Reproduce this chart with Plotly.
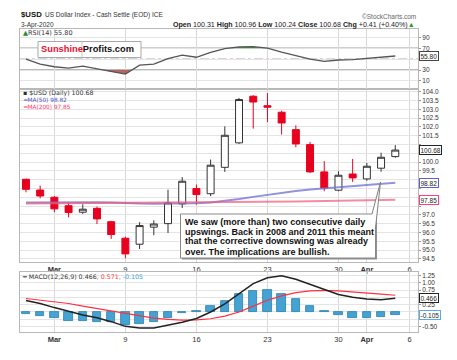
import numpy as np
import plotly.graph_objects as go

# ---------------- data ----------------
dates = ["2020-02-27", "2020-02-28", "2020-03-02", "2020-03-03", "2020-03-04", "2020-03-05", "2020-03-06",
         "2020-03-09", "2020-03-10", "2020-03-11", "2020-03-12", "2020-03-13",
         "2020-03-16", "2020-03-17", "2020-03-18", "2020-03-19", "2020-03-20",
         "2020-03-23", "2020-03-24", "2020-03-25", "2020-03-26", "2020-03-27",
         "2020-03-30", "2020-03-31", "2020-04-01", "2020-04-02", "2020-04-03"]
opens = [99.02, 98.41, 98.00, 97.52, 97.15, 97.37, 96.61, 95.67, 95.33, 96.30, 96.50, 97.62,
         98.49, 98.20, 99.70, 101.09, 103.74, 103.20, 102.83, 101.84, 100.99, 99.44,
         98.40, 99.32, 99.04, 99.65, 100.31]
highs = [99.06, 98.66, 98.07, 97.69, 97.60, 97.47, 96.66, 95.76, 96.58, 96.69, 98.43, 99.14,
         98.72, 100.14, 102.03, 103.64, 103.80, 103.92, 102.92, 102.09, 101.14, 100.05,
         99.48, 100.18, 99.95, 100.53, 100.96]
lows = [98.28, 97.94, 97.15, 96.86, 97.05, 96.48, 95.63, 94.53, 95.06, 95.84, 95.97, 97.39,
        97.58, 98.06, 99.44, 101.03, 101.90, 102.27, 101.56, 100.84, 99.38, 98.34,
        98.34, 98.87, 98.94, 99.45, 100.24]
closes = [98.45, 98.07, 97.34, 97.13, 97.32, 96.77, 95.88, 94.78, 96.39, 96.48, 97.68, 98.91,
          98.15, 99.82, 101.52, 103.55, 103.41, 103.12, 102.22, 101.03, 99.44, 98.53,
          99.25, 99.10, 99.76, 100.27, 100.68]
ma50 = [97.70, 97.71, 97.72, 97.73, 97.73, 97.72, 97.70, 97.66, 97.64, 97.63, 97.63, 97.64,
        97.66, 97.70, 97.78, 97.90, 98.02, 98.14, 98.25, 98.35, 98.44, 98.51,
        98.57, 98.63, 98.69, 98.76, 98.82]
ma200 = [97.64, 97.645, 97.65, 97.65, 97.655, 97.66, 97.66, 97.665, 97.67, 97.67, 97.675, 97.68,
         97.69, 97.70, 97.71, 97.72, 97.73, 97.74, 97.75, 97.76, 97.77, 97.78,
         97.79, 97.80, 97.82, 97.83, 97.85]
rsi = [50.0, 41.0, 36.0, 33.5, 37.0, 32.0, 27.0, 22.5, 39.0, 41.0, 51.0, 57.5,
       53.5, 62.5, 69.5, 72.5, 73.0, 70.3, 63.0, 57.0, 50.0, 46.0,
       48.5, 49.0, 51.5, 54.0, 55.8]
macd = [0.39, 0.29, 0.15, 0.02, -0.10, -0.20, -0.33, -0.49, -0.55, -0.55, -0.45, -0.35,
        -0.22, 0.00, 0.28, 0.63, 0.97, 1.17, 1.24, 1.12, 0.95, 0.76,
        0.60, 0.50, 0.44, 0.42, 0.466]
signal = [0.46, 0.41, 0.35, 0.29, 0.20, 0.12, 0.03, -0.05, -0.14, -0.21, -0.25, -0.28,
          -0.27, -0.23, -0.14, 0.00, 0.20, 0.40, 0.55, 0.66, 0.72, 0.74,
          0.72, 0.69, 0.65, 0.61, 0.571]
hist = [-0.08, -0.12, -0.21, -0.30, -0.30, -0.33, -0.33, -0.46, -0.40, -0.33, -0.22, -0.05,
        0.03, 0.20, 0.37, 0.62, 0.70, 0.74, 0.63, 0.45, 0.20, 0.02,
        -0.11, -0.20, -0.20, -0.17, -0.105]
tick_dates = ["2020-03-02", "2020-03-09", "2020-03-16", "2020-03-23", "2020-03-30", "2020-04-01", "2020-04-06"]
tick_labels = ["<b>Mar</b>", "9", "16", "23", "30", "<b>Apr</b>", "6"]
price_ticks = [94.5 + 0.5 * i for i in range(20)]
rsi_ticks = [10, 30, 50, 70, 90]
macd_ticks = [-0.5, -0.25, 0.0, 0.25, 0.5, 0.75, 1.0, 1.25]

# ---------------- geometry helpers ----------------
W, H = 457, 360
def px(x): return x / W
def py(y): return 1 - y / H

idx = [int(np.busday_count(dates[0], d)) for d in dates]
tick_pos = [int(np.busday_count(dates[0], d)) for d in tick_dates]
XR = [-0.42, 27.6]
FONT = "Liberation Sans, Arial, sans-serif"
DV = "DejaVu Sans, Verdana, sans-serif"

# tick labels hidden behind the value badges are left blank
def visible_labels(ticks, badges, gap, fmt):
    return [("" if any(abs(t - b) < gap for b in badges) else fmt(t)) for t in ticks]

fig = go.Figure()

# ---------------- main price panel ----------------
fig.add_trace(go.Candlestick(
    x=idx, open=opens, high=highs, low=lows, close=closes,
    increasing=dict(fillcolor="white", line=dict(color="#333333", width=1)),
    decreasing=dict(fillcolor="#e8001f", line=dict(color="#e8001f", width=1)),
    whiskerwidth=0, xaxis="x", yaxis="y", showlegend=False, hoverinfo="skip"))
fig.add_trace(go.Scatter(x=idx, y=ma50, mode="lines", line=dict(color="rgba(110,110,210,0.75)", width=2),
                         xaxis="x", yaxis="y", showlegend=False, hoverinfo="skip"))
fig.add_trace(go.Scatter(x=idx, y=ma200, mode="lines", line=dict(color="rgba(240,90,120,0.7)", width=2),
                         xaxis="x", yaxis="y", showlegend=False, hoverinfo="skip"))

# ---------------- RSI panel ----------------
def clipped(xs, ys, thr, below=True):
    ox, oy = [], []
    for i in range(len(xs)):
        if i > 0:
            a, b = ys[i - 1], ys[i]
            if (a - thr) * (b - thr) < 0:
                t = (thr - a) / (b - a)
                ox.append(xs[i - 1] + t * (xs[i] - xs[i - 1]))
                oy.append(thr)
        ox.append(xs[i])
        oy.append(min(ys[i], thr) if below else max(ys[i], thr))
    return ox, oy

for thr, below, col in [(30, True, "rgba(170,50,50,0.75)"), (70, False, "rgba(40,140,40,0.85)")]:
    ox, oy = clipped(idx, rsi, thr, below)
    fig.add_trace(go.Scatter(x=ox, y=[thr] * len(ox), mode="lines", line=dict(width=0),
                             xaxis="x2", yaxis="y2", showlegend=False, hoverinfo="skip"))
    fig.add_trace(go.Scatter(x=ox, y=oy, mode="lines", line=dict(width=0), fill="tonexty",
                             fillcolor=col, xaxis="x2", yaxis="y2", showlegend=False, hoverinfo="skip"))
fig.add_trace(go.Scatter(x=idx, y=rsi, mode="lines", line=dict(color="#555555", width=1.3),
                         xaxis="x2", yaxis="y2", showlegend=False, hoverinfo="skip"))

# ---------------- MACD panel ----------------
fig.add_trace(go.Bar(x=idx, y=hist, width=0.6, marker=dict(color="#45a3d3", line=dict(color="#2a7fae", width=0.8)),
                     xaxis="x3", yaxis="y3", showlegend=False, hoverinfo="skip"))
fig.add_trace(go.Scatter(x=idx, y=signal, mode="lines", line=dict(color="#ff3040", width=1.2),
                         xaxis="x3", yaxis="y3", showlegend=False, hoverinfo="skip"))
fig.add_trace(go.Scatter(x=idx, y=macd, mode="lines", line=dict(color="#222222", width=1.5),
                         xaxis="x3", yaxis="y3", showlegend=False, hoverinfo="skip"))

# ---------------- axes ----------------
xcommon = dict(range=XR, tickvals=tick_pos, ticktext=tick_labels, showgrid=True, gridcolor="#d8d8d8",
               gridwidth=1, zeroline=False, showline=True, mirror=True, linecolor="#b8b8b8",
               tickfont=dict(family=FONT, size=7.5, color="#333"), ticks="", fixedrange=True,
               domain=[px(20), px(418)])
ycommon = dict(side="right", showgrid=True, gridcolor="#e4e4e4", zeroline=False, showline=True, mirror=True,
               linecolor="#b8b8b8", tickfont=dict(family=FONT, size=6.5, color="#333"), ticks="outside",
               ticklen=2, tickcolor="#999", fixedrange=True)

fig.update_layout(
    width=W, height=H, margin=dict(l=0, r=0, t=0, b=0), paper_bgcolor="white", plot_bgcolor="white",
    showlegend=False, bargap=0,
    xaxis=dict(xcommon, anchor="y", showticklabels=True, rangeslider=dict(visible=False)),
    xaxis2=dict(xcommon, anchor="y2", showticklabels=False),
    xaxis3=dict(xcommon, anchor="y3", showticklabels=True),
    yaxis=dict(ycommon, anchor="x", domain=[py(262), py(89)], range=[94.32, 104.15],
               tickvals=price_ticks,
               ticktext=visible_labels(price_ticks, [closes[-1], ma50[-1], ma200[-1]], 0.36, lambda v: f"{v:.1f}")),
    yaxis2=dict(ycommon, anchor="x2", domain=[py(89), py(29)], range=[-5, 105.6],
                tickvals=rsi_ticks, ticktext=visible_labels(rsi_ticks, [rsi[-1]], 8, str)),
    yaxis3=dict(ycommon, anchor="x3", domain=[py(332), py(272)], range=[-0.683, 1.365],
                tickvals=macd_ticks,
                ticktext=visible_labels(macd_ticks, [macd[-1], signal[-1], hist[-1]], 0.15, lambda v: f"{v:.2f}")),
)

shapes = []
# RSI reference lines
for lvl, dash, w, c in [(70, "solid", 1.5, "#a0a0a0"), (30, "solid", 1.5, "#a0a0a0"), (50, "dashdot", 1, "#888")]:
    shapes.append(dict(type="line", xref="paper", yref="y2", x0=px(20), x1=px(418), y0=lvl, y1=lvl,
                       line=dict(color=c, width=w, dash=dash), layer="below"))
# logo box
shapes.append(dict(type="rect", xref="paper", yref="paper", x0=px(38), x1=px(141), y0=py(57.5), y1=py(41.5),
                   fillcolor="white", line=dict(color="#a8a8a8", width=1)))
shapes.append(dict(type="line", xref="paper", yref="paper", x0=px(82), x1=px(82), y0=py(57.5), y1=py(41.5),
                   line=dict(color="#c8c8c8", width=1)))
# comment box + pointer
shapes.append(dict(type="rect", xref="paper", yref="paper", x0=px(182), x1=px(377), y0=py(259.5), y1=py(215.5),
                   fillcolor="#909090", line=dict(width=0)))
shapes.append(dict(type="rect", xref="paper", yref="paper", x0=px(180.5), x1=px(375.5), y0=py(258), y1=py(214),
                   fillcolor="white", line=dict(color="#8a8a8a", width=1)))
shapes.append(dict(type="path", xref="paper", yref="paper",
                   path=f"M {px(372)},{py(214)} L {px(380.5)},{py(182)} L {px(375.5)},{py(228)}",
                   fillcolor="white", line=dict(color="#808080", width=1)))
fig.update_layout(shapes=shapes)

ann = []
def txt(x, y, s, size=6.5, color="#333", anchor="left", family=FONT, **kw):
    ann.append(dict(xref="paper", yref="paper", x=px(x), y=py(y), text=s, showarrow=False, xanchor=anchor,
                    yanchor="middle", font=dict(family=family, size=size, color=color), **kw))

# header
txt(19, 15, "<b>$USD</b>", size=7.8, color="#111")
txt(42.5, 15.5, "US Dollar Index - Cash Settle (EOD) ICE", size=6.5, color="#333")
txt(19, 25, "3-Apr-2020", size=6.5, color="#333")
txt(417, 25, f"<b>Open</b> {opens[-1]:.2f} <b>High</b> {highs[-1]:.2f} <b>Low</b> {lows[-1]:.2f} "
             f"<b>Close</b> {closes[-1]:.2f} <b>Chg</b> +0.41 (+0.40%)<span style='color:#2a9a2a'>▲</span>",
    size=7.1, color="#222", anchor="right")
txt(418, 16.5, "©StockCharts.com", size=6.5, color="#666", anchor="right")

# panel labels
txt(21, 33, f"<span style='color:#2a8a2a'>▲</span>RSI(14) {rsi[-1]:.2f}", size=6.5, color="#333", family=DV)
txt(21, 93, f"<b>▪</b> $USD (Daily) {closes[-1]:.2f}", size=6.3, color="#333", family=DV)
txt(21, 100, f"<span style='color:#5050c8'>━</span>MA(50) {ma50[-1]:.2f}", size=5.8, color="#5050c8", family=DV)
txt(21, 107, f"<span style='color:#ff3366'>━</span>MA(200) {ma200[-1]:.2f}", size=5.8, color="#ff3366", family=DV)
txt(20, 276, f"━ MACD(12,26,9) {macd[-1]:.3f}<span style='color:#ff3040'>, {signal[-1]:.3f}</span>"
             f"<span style='color:#3aa0d8'>, {hist[-1]:.3f}</span>", size=6.3, color="#333", family=DV)

# logo
txt(39, 49.5, "<b><span style='color:#e8102f'>Sunshine</span>Profits.com</b>", size=9.3, color="#111")

# comment text
lines = ["We saw (more than) two consecutive daily",
         "upswings. Back in 2008 and 2011 this meant",
         "that the corrective downswing was already",
         "over. The implications are bullish."]
for i, s in enumerate(lines):
    txt(182.5, 221.5 + 10 * i, f"<b>{s}</b>", size=9.0, color="#111")

# right-side value badges
def badge(yref, yval, s, border):
    ann.append(dict(xref="paper", yref=yref, x=px(419), y=yval, text=s, showarrow=False, xanchor="left",
                    yanchor="middle", font=dict(family=FONT, size=6.5, color="#222"), bgcolor="white",
                    bordercolor=border, borderwidth=1, borderpad=0.5))
badge("y", closes[-1], f"{closes[-1]:.2f}", "#222")
badge("y", ma50[-1], f"{ma50[-1]:.2f}", "#6060d0")
badge("y", ma200[-1], f"{ma200[-1]:.2f}", "#ff4070")
badge("y2", rsi[-1], f"{rsi[-1]:.2f}", "#444")
badge("y3", macd[-1], f"{macd[-1]:.3f}", "#222")
badge("y3", hist[-1], f"{hist[-1]:.3f}", "#5aaadd")

fig.update_layout(annotations=ann)
fig.write_html("out.html", config={"displayModeBar": False},
               post_script="document.body.style.margin='0px';")
